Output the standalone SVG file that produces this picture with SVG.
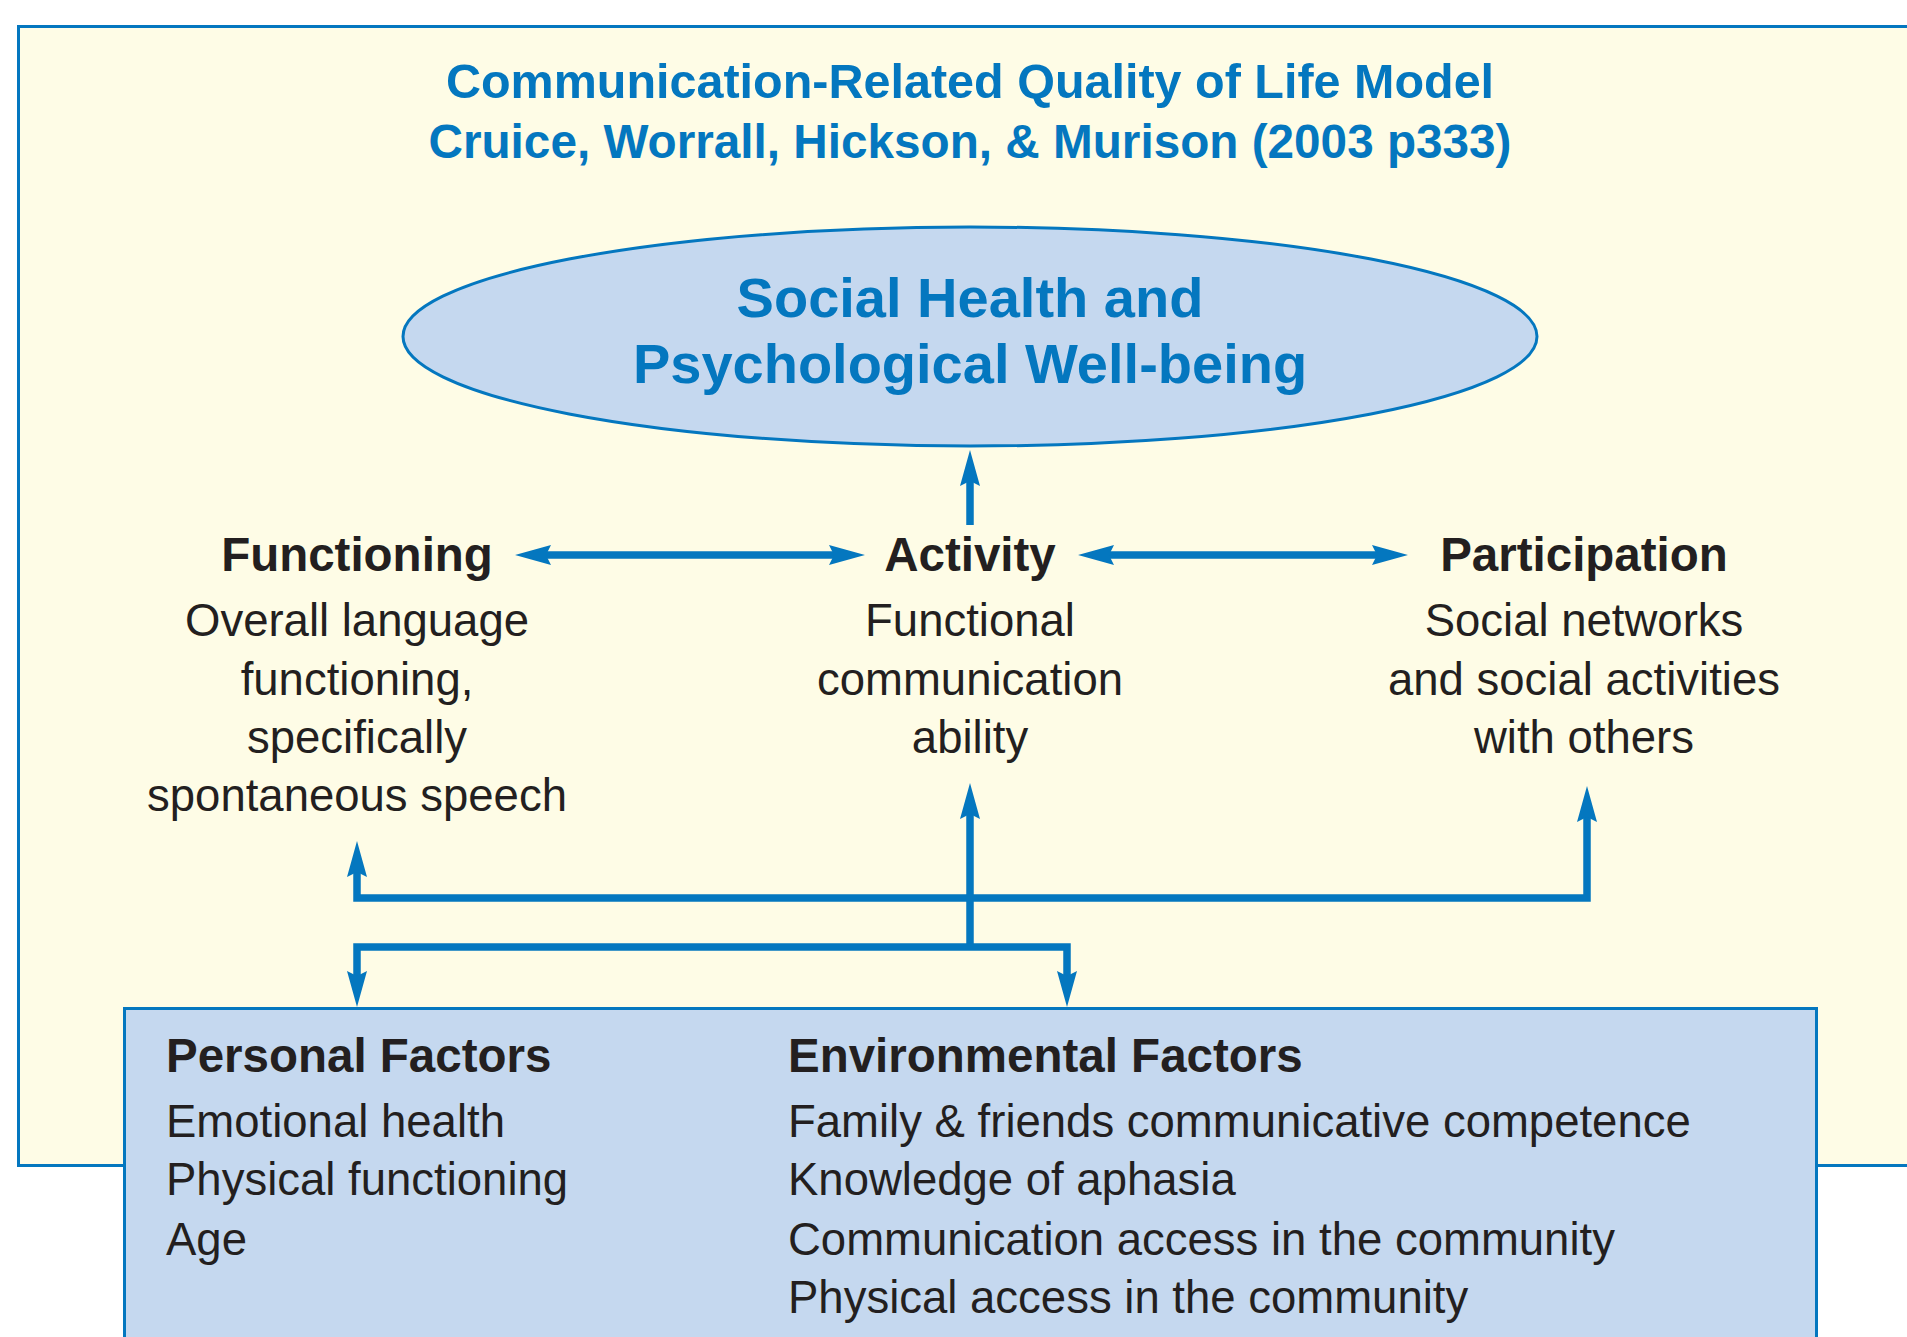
<svg xmlns="http://www.w3.org/2000/svg" width="1907" height="1337" viewBox="0 0 1907 1337">
  <style>
    .title { font-family: "Liberation Sans", Arial, sans-serif; font-weight: bold; font-size: 48.5px; fill: #0477BF; text-anchor: middle; }
    .title.sub { font-size: 47.7px; }
    .oval-text { font-family: "Liberation Sans", Arial, sans-serif; font-weight: bold; font-size: 56px; fill: #0477BF; text-anchor: middle; }
    .head { font-family: "Liberation Sans", Arial, sans-serif; font-weight: bold; font-size: 47.5px; fill: #231F20; }
    .body { font-family: "Liberation Sans", Arial, sans-serif; font-size: 45.5px; fill: #231F20; }
    .mid { text-anchor: middle; }
    .conn { fill: none; stroke: #0477BF; stroke-width: 7.5; stroke-linejoin: miter; stroke-linecap: butt; }
  </style>
  <defs>
    <marker id="arrow" markerUnits="userSpaceOnUse" markerWidth="1" markerHeight="1" refX="0" refY="0" orient="auto-start-reverse" overflow="visible">
      <path d="M30,0 L-6,-10 L-1,0 L-6,10 Z" fill="#0477BF"/>
    </marker>
  </defs>

  <rect width="1907" height="1337" fill="#FFFFFF"/>

  <!-- outer panel -->
  <g id="panel">
    <rect x="18.5" y="26.5" width="1900" height="1139" fill="#FEFCE6" stroke="#0477BF" stroke-width="3"/>
  </g>

  <g id="title">
    <text class="title" x="970" y="98">Communication-Related Quality of Life Model</text>
    <text class="title sub" x="970" y="158">Cruice, Worrall, Hickson, &amp; Murison (2003 p333)</text>
  </g>

  <g id="wellbeing">
    <ellipse cx="970" cy="336.5" rx="567" ry="109.5" fill="#C5D8EF" stroke="#0477BF" stroke-width="3"/>
    <text class="oval-text" x="970" y="317">Social Health and</text>
    <text class="oval-text" x="970" y="383">Psychological Well-being</text>
  </g>

  <g id="functioning">
    <text class="head mid" x="357" y="571">Functioning</text>
    <text class="body mid" x="357" y="636">Overall language</text>
    <text class="body mid" x="357" y="695">functioning,</text>
    <text class="body mid" x="357" y="753">specifically</text>
    <text class="body mid" x="357" y="811">spontaneous speech</text>
  </g>

  <g id="activity">
    <text class="head mid" x="970" y="571">Activity</text>
    <text class="body mid" x="970" y="636">Functional</text>
    <text class="body mid" x="970" y="695">communication</text>
    <text class="body mid" x="970" y="753">ability</text>
  </g>

  <g id="participation">
    <text class="head mid" x="1584" y="571">Participation</text>
    <text class="body mid" x="1584" y="636">Social networks</text>
    <text class="body mid" x="1584" y="695">and social activities</text>
    <text class="body mid" x="1584" y="753">with others</text>
  </g>

  <!-- contextual factors panel -->
  <g id="factors">
    <rect x="124.5" y="1008.5" width="1692" height="360" fill="#C5D8EF" stroke="#0477BF" stroke-width="3"/>
    <text class="head" x="166" y="1072">Personal Factors</text>
    <text class="body" x="166" y="1137">Emotional health</text>
    <text class="body" x="166" y="1195">Physical functioning</text>
    <text class="body" x="166" y="1255">Age</text>
    <text class="head" x="788" y="1072">Environmental Factors</text>
    <text class="body" x="788" y="1137">Family &amp; friends communicative competence</text>
    <text class="body" x="788" y="1195">Knowledge of aphasia</text>
    <text class="body" x="788" y="1255">Communication access in the community</text>
    <text class="body" x="788" y="1313">Physical access in the community</text>
  </g>

  <g id="connectors">
    <!-- activity to well-being -->
    <path class="conn" d="M970,525 V480" marker-end="url(#arrow)"/>
    <!-- two-way links between the components -->
    <path class="conn" d="M545,555 H835" marker-start="url(#arrow)" marker-end="url(#arrow)"/>
    <path class="conn" d="M1108,555 H1378" marker-start="url(#arrow)" marker-end="url(#arrow)"/>
    <!-- upper distribution bar -->
    <path class="conn" d="M357,871 V898 H1587 V816" marker-start="url(#arrow)" marker-end="url(#arrow)"/>
    <!-- central trunk up to activity -->
    <path class="conn" d="M970,947 V813" marker-end="url(#arrow)"/>
    <!-- lower distribution bar down to the factors -->
    <path class="conn" d="M357,977 V947 H1067 V977" marker-start="url(#arrow)" marker-end="url(#arrow)"/>
  </g>
</svg>
